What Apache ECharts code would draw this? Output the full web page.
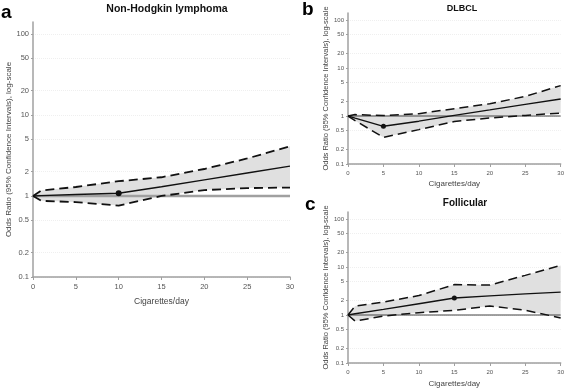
<!DOCTYPE html>
<html>
<head>
<meta charset="utf-8">
<script src="https://cdn.jsdelivr.net/npm/echarts@6/dist/echarts.min.js"></script>
<style>
  html, body { margin: 0; padding: 0; background: #fff; }
  #chart { width: 567px; height: 391px; }
</style>
</head>
<body>
<div id="chart"></div>
<script>
// cigarettes/day grid shared by all panels
const xVals = [0, 1, 5, 10, 15, 20, 25, 30];

// a: Non-Hodgkin lymphoma
const nhlOR = [1, 1.01, 1.04, 1.08, 1.3, 1.58, 1.92, 2.33];
const nhlLow = [1, 0.87, 0.84, 0.76, 1.0, 1.18, 1.25, 1.27];
const nhlHigh = [1, 1.17, 1.29, 1.52, 1.7, 2.15, 2.9, 4.1];

// b: DLBCL
const dlbclOR = [1, 0.9, 0.61, 0.78, 1.03, 1.34, 1.75, 2.26];
const dlbclLow = [1, 0.8, 0.36, 0.52, 0.77, 0.91, 1.03, 1.15];
const dlbclHigh = [1, 1.07, 1.02, 1.12, 1.42, 1.8, 2.56, 4.3];

// c: Follicular
const follOR = [1, 1.06, 1.31, 1.72, 2.26, 2.5, 2.75, 3.0];
const follLow = [1, 0.75, 0.95, 1.12, 1.25, 1.54, 1.26, 0.87];
const follHigh = [1, 1.54, 1.86, 2.54, 4.3, 4.2, 6.7, 10.8];

const yTicks = [0.1, 0.2, 0.5, 1, 2, 5, 10, 20, 50, 100];

const panels = [
  { letter: 'a', title: 'Non-Hodgkin lymphoma', or: nhlOR, lo: nhlLow, hi: nhlHigh, knot: 3 },
  { letter: 'b', title: 'DLBCL', or: dlbclOR, lo: dlbclLow, hi: dlbclHigh, knot: 2 },
  { letter: 'c', title: 'Follicular', or: follOR, lo: follLow, hi: follHigh, knot: 4 }
];

const grids = [
  { left: 33, top: 22, width: 257, height: 255 },
  { left: 348, top: 13, width: 215, height: 151 },
  { left: 348, top: 212, width: 215, height: 151 }
];

const font = 'Liberation Sans, Arial, sans-serif';
const small = [7.5, 6, 6];
const nameSize = [8.5, 8, 8];
const yNameGap = [20, 17, 17];
const xNameGap = [20, 16, 17];

const chart = echarts.init(document.getElementById('chart'));

const xAxes = grids.map((g, i) => ({
  type: 'value',
  gridIndex: i,
  min: 0,
  max: 30,
  interval: 5,
  name: 'Cigarettes/day',
  nameLocation: 'middle',
  nameGap: xNameGap[i],
  nameTextStyle: { fontFamily: font, fontSize: nameSize[i], color: '#444' },
  axisLine: { lineStyle: { color: '#a0a0a0', width: 1.5 } },
  axisTick: { show: true, length: 3, lineStyle: { color: '#a0a0a0' } },
  axisLabel: { fontFamily: font, fontSize: small[i], color: '#555', margin: 6 },
  splitLine: { show: false }
}));

const yAxes = grids.map((g, i) => ({
  type: 'log',
  logBase: 10,
  gridIndex: i,
  min: 0.1,
  max: 140,
  name: 'Odds Ratio (95% Confidence Intervals), log-scale',
  nameLocation: 'middle',
  nameGap: yNameGap[i],
  nameTextStyle: { fontFamily: font, fontSize: nameSize[i] - 0.5, color: '#444' },
  axisLine: { show: true, lineStyle: { color: '#a0a0a0', width: 1.5 } },
  axisTick: { show: true, length: 2, customValues: yTicks, lineStyle: { color: '#a0a0a0' } },
  axisLabel: { fontFamily: font, fontSize: small[i], color: '#555', margin: 4, customValues: yTicks },
  splitLine: { show: true, lineStyle: { color: '#efefef', type: 'dotted' } }
}));

const series = [];
panels.forEach((p, i) => {
  // confidence band
  series.push({
    type: 'custom',
    xAxisIndex: i,
    yAxisIndex: i,
    z: 1,
    data: xVals.map((x, k) => [x, p.lo[k], p.hi[k]]),
    renderItem: (params, api) => {
      if (params.dataIndex !== 0) return null;
      const top = xVals.map((x, k) => api.coord([x, p.hi[k]]));
      const bottom = xVals.map((x, k) => api.coord([x, p.lo[k]])).reverse();
      return {
        type: 'polygon',
        shape: { points: top.concat(bottom) },
        style: { fill: '#e0e0e0' }
      };
    },
    silent: true
  });
  // reference line at OR = 1
  series.push({
    type: 'line',
    xAxisIndex: i,
    yAxisIndex: i,
    z: 2,
    data: [[0, 1], [30, 1]],
    showSymbol: false,
    lineStyle: i === 0 ? { color: '#a0a0a0', width: 2.5 } : { color: '#444', width: 1 },
    silent: true
  });
  // dashed CI limits
  [p.lo, p.hi].forEach(arr => {
    series.push({
      type: 'line',
      xAxisIndex: i,
      yAxisIndex: i,
      z: 3,
      data: xVals.map((x, k) => [x, arr[k]]),
      showSymbol: false,
      lineStyle: { color: '#111', width: i === 0 ? 1.8 : 1.5, type: [9, 5] },
      silent: true
    });
  });
  // odds ratio curve
  series.push({
    type: 'line',
    xAxisIndex: i,
    yAxisIndex: i,
    z: 4,
    data: xVals.map((x, k) => [x, p.or[k]]),
    showSymbol: true,
    symbol: 'circle',
    symbolSize: (v, prm) => (prm.dataIndex === p.knot ? (i === 0 ? 6 : 5) : 0),
    itemStyle: { color: '#111' },
    lineStyle: { color: '#111', width: 1.4 },
    silent: true
  });
});

const letterStyle = { fontFamily: font, fontSize: 19, fontWeight: 'bold', color: '#000' };
const titles = [
  { text: 'a', left: -4, top: -2, textStyle: letterStyle },
  { text: 'Non-Hodgkin lymphoma', left: 162, top: -1, textAlign: 'center', textStyle: { fontFamily: font, fontSize: 10.5, fontWeight: 'bold', color: '#111' } },
  { text: 'b', left: 297, top: -5, textStyle: letterStyle },
  { text: 'DLBCL', left: 457, top: -1, textAlign: 'center', textStyle: { fontFamily: font, fontSize: 9, fontWeight: 'bold', color: '#111' } },
  { text: 'c', left: 300, top: 190, textStyle: letterStyle },
  { text: 'Follicular', left: 460, top: 193, textAlign: 'center', textStyle: { fontFamily: font, fontSize: 10, fontWeight: 'bold', color: '#111' } }
];

chart.setOption({
  animation: false,
  backgroundColor: '#fff',
  title: titles,
  grid: grids,
  xAxis: xAxes,
  yAxis: yAxes,
  series: series
});
</script>
</body>
</html>
